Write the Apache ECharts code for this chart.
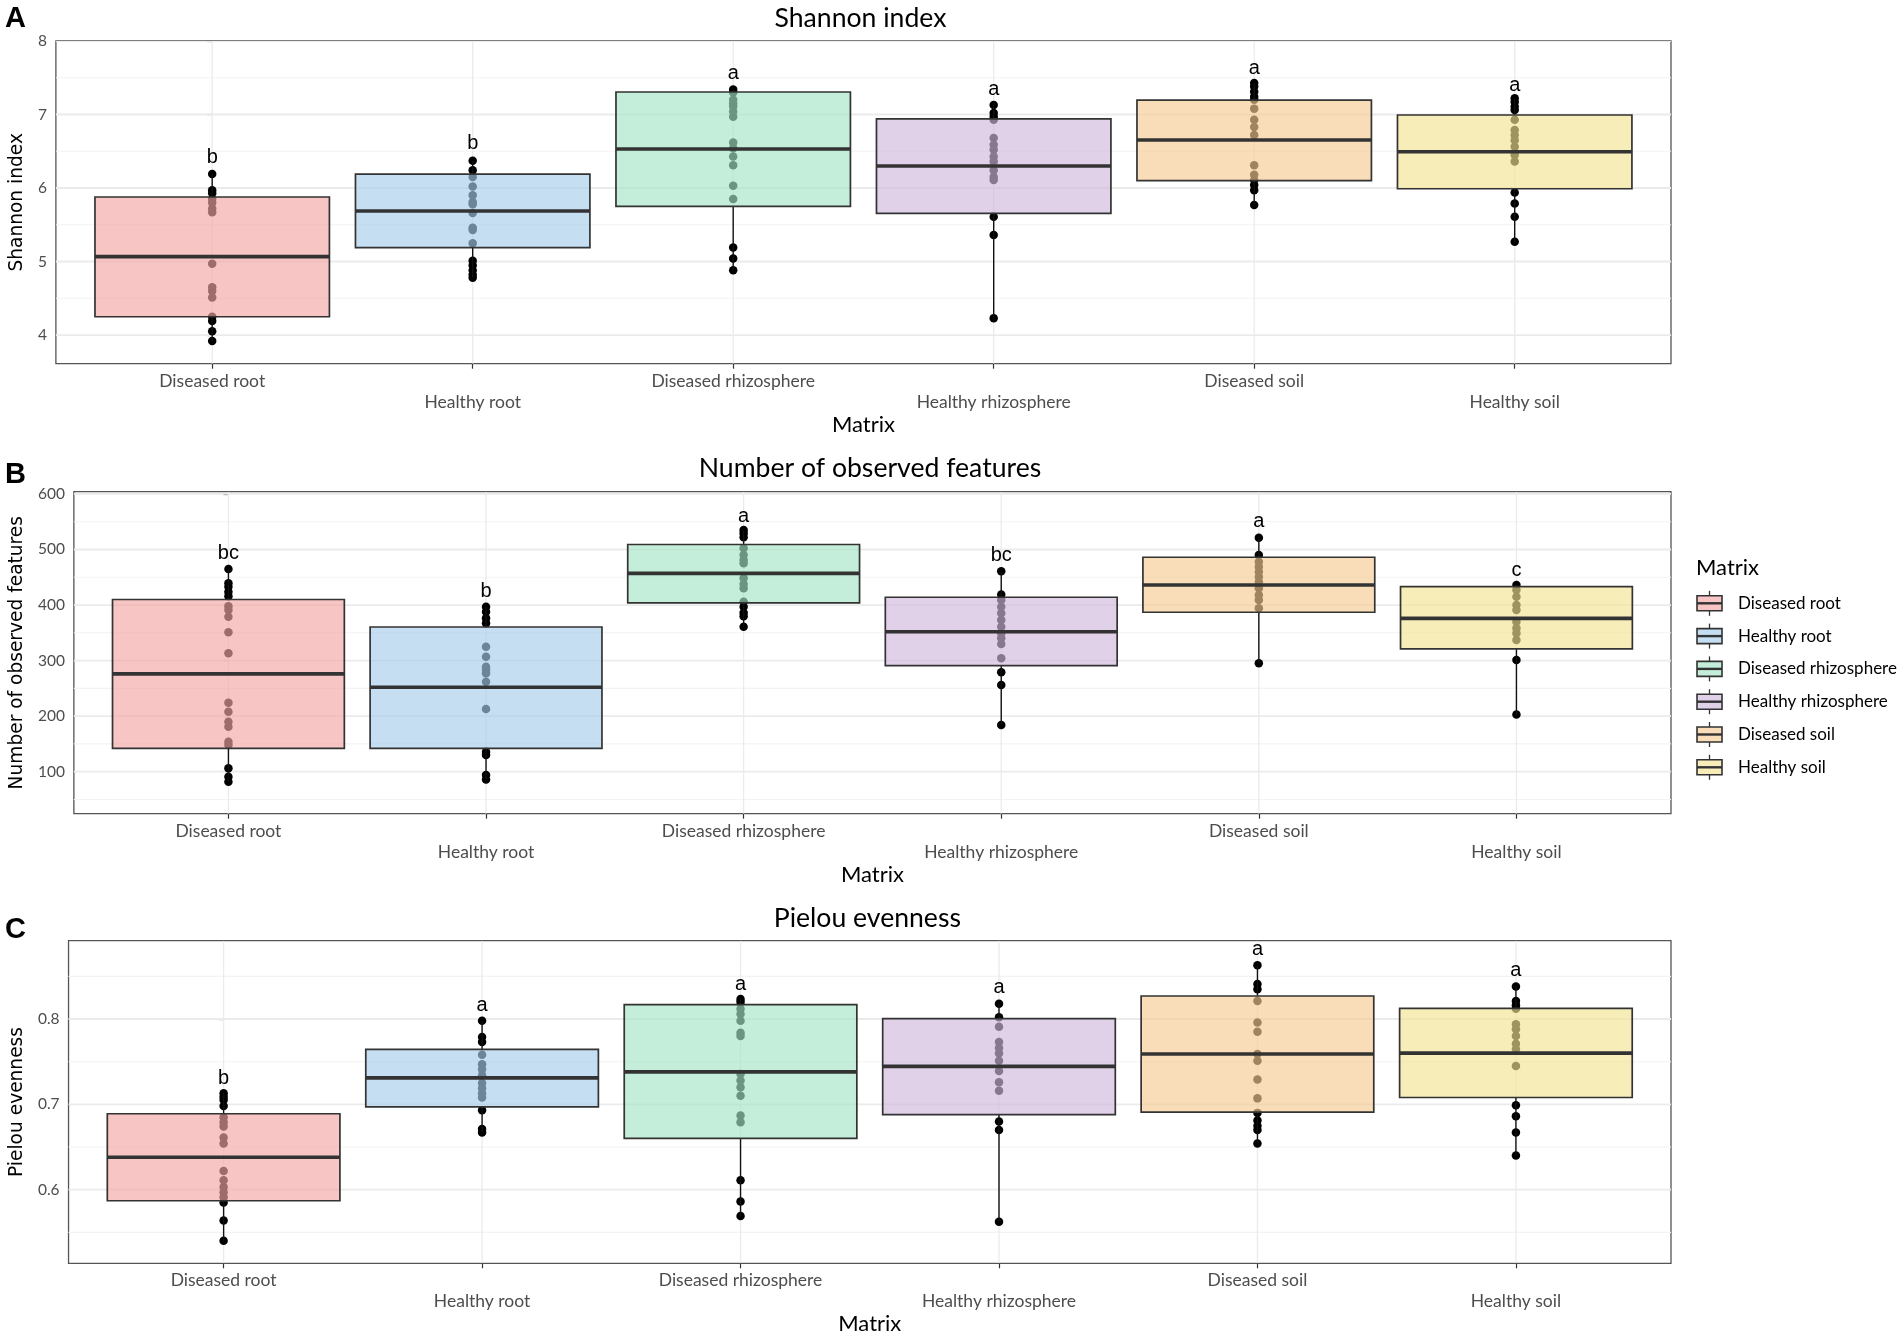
<!DOCTYPE html>
<html><head><meta charset="utf-8">
<script src="https://cdn.jsdelivr.net/npm/echarts@6/dist/echarts.min.js"></script>
<style>html,body{margin:0;padding:0;background:#fff}#c{width:1902px;height:1339px}</style>
</head><body><div id="c"></div>
<script>
// ---------- data ----------
const categories = ['Diseased root','Healthy root','Diseased rhizosphere','Healthy rhizosphere','Diseased soil','Healthy soil'];
const fillColors = ['rgba(243,166,164,0.65)','rgba(166,204,235,0.65)','rgba(164,229,196,0.65)','rgba(207,183,220,0.65)','rgba(246,203,146,0.65)','rgba(243,227,147,0.65)'];

// box stats: [q1, median, q3, whiskerLow, whiskerHigh]
const shannonBox = [[4.249,5.066,5.878,3.92,6.19],[5.188,5.687,6.19,4.78,6.37],[5.75,6.53,7.306,4.88,7.34],[5.655,6.30,6.94,4.23,7.13],[6.10,6.653,7.197,5.77,7.43],[5.99,6.494,6.993,5.27,7.22]];
const shannonPoints = [
  [6.19,5.97,5.93,5.85,5.80,5.72,5.67,4.97,4.65,4.60,4.51,4.25,4.19,4.05,3.92],
  [6.37,6.24,6.15,6.02,5.90,5.81,5.78,5.66,5.46,5.43,5.25,5.01,4.95,4.88,4.82,4.78],
  [7.34,7.30,7.20,7.15,7.11,7.04,6.97,6.62,6.54,6.43,6.31,6.03,5.85,5.19,5.04,4.88],
  [7.13,7.02,6.97,6.93,6.68,6.59,6.52,6.43,6.36,6.24,6.15,6.11,5.61,5.36,4.23],
  [7.43,7.38,7.31,7.24,7.20,7.08,6.93,6.83,6.72,6.31,6.18,6.11,6.04,5.97,5.77],
  [7.22,7.17,7.11,7.06,6.93,6.79,6.72,6.65,6.56,6.45,6.36,5.94,5.79,5.61,5.27]];
const shannonLetters = ['b','b','a','a','a','a'];
const shannonLetterY = [6.42,6.60,7.56,7.34,7.63,7.39];
const shannonTicks = [4,5,6,7,8];
const shannonMinor = [4.5,5.5,6.5,7.5];

const featuresBox = [[142,276,410,82,465],[142,252,360.5,86,397],[404,457,509,361,535],[291,352,414,184,461],[387,436,486,295,521],[321,376,433,203,436]];
const featuresPoints = [
  [465,439,433,424,416,398,391,379,351,313,224,208,190,181,154,148,106,91,82],
  [397,388,376,367,325,307,289,283,277,262,213,136,130,94,86],
  [535,529,522,502,490,481,475,448,438,430,406,397,386,380,361],
  [461,419,409,397,385,373,361,349,340,330,304,279,256,184],
  [521,490,478,469,460,451,442,430,418,409,394,295],
  [436,427,415,400,391,370,358,349,337,301,203]];
const featuresLetters = ['bc','b','a','bc','a','c'];
const featuresLetterY = [493,424,560,490,550,462];
const featuresTicks = [100,200,300,400,500,600];
const featuresMinor = [50,150,250,350,450,550];

const pielouBox = [[0.587,0.638,0.689,0.540,0.713],[0.697,0.731,0.7645,0.667,0.798],[0.660,0.738,0.8168,0.569,0.8234],[0.688,0.7445,0.8004,0.5625,0.818],[0.691,0.759,0.827,0.654,0.863],[0.708,0.760,0.8125,0.640,0.838]];
const pielouPoints = [
  [0.713,0.709,0.705,0.698,0.685,0.679,0.674,0.661,0.654,0.622,0.611,0.603,0.597,0.591,0.585,0.564,0.540],
  [0.798,0.779,0.773,0.758,0.747,0.741,0.734,0.725,0.719,0.713,0.708,0.693,0.671,0.667],
  [0.8234,0.820,0.812,0.806,0.798,0.784,0.780,0.7355,0.728,0.720,0.710,0.687,0.679,0.611,0.586,0.569],
  [0.818,0.802,0.791,0.773,0.766,0.760,0.751,0.739,0.726,0.716,0.680,0.670,0.5625],
  [0.863,0.841,0.835,0.821,0.796,0.785,0.759,0.751,0.729,0.707,0.690,0.681,0.675,0.670,0.654],
  [0.838,0.821,0.816,0.812,0.794,0.788,0.780,0.771,0.765,0.745,0.699,0.686,0.667,0.640]];
const pielouLetters = ['b','a','a','a','a','a'];
const pielouLetterY = [0.7305,0.8164,0.840,0.837,0.882,0.857];
const pielouTicks = [0.6,0.7,0.8];
const pielouMinor = [0.55,0.65,0.75,0.85];

// ---------- layout ----------
const NARROW = "Lato,'Open Sans',sans-serif";
const ARIAL = "'Liberation Sans',Arial,sans-serif";
const panels = [
  {tag:'A', title:'Shannon index', yName:'Shannon index', grid:{left:50, top:41, width:1621, height:322.7}, yMin:3.61, yMax:8.0, nameGap:25,
   box:shannonBox, pts:shannonPoints, letters:shannonLetters, letterY:shannonLetterY, ticks:shannonTicks, minor:shannonMinor, titleY:18, tagY:19},
  {tag:'B', title:'Number of observed features', yName:'Number of observed features', grid:{left:69, top:491.7, width:1602, height:322}, yMin:24.4, yMax:604, nameGap:44,
   box:featuresBox, pts:featuresPoints, letters:featuresLetters, letterY:featuresLetterY, ticks:featuresTicks, minor:featuresMinor, titleY:468, tagY:475},
  {tag:'C', title:'Pielou evenness', yName:'Pielou evenness', grid:{left:63.7, top:940.7, width:1607.3, height:322.6}, yMin:0.5137, yMax:0.8918, nameGap:39,
   box:pielouBox, pts:pielouPoints, letters:pielouLetters, letterY:pielouLetterY, ticks:pielouTicks, minor:pielouMinor, titleY:918, tagY:930}
];

const grids = [], xAxes = [], yAxes = [], series = [], graphics = [];
const catIdx = categories.map((c,i)=>i);

panels.forEach((p, k) => {
  grids.push(Object.assign({show:true, borderColor:'#555', borderWidth:1.3, backgroundColor:'#fff'}, p.grid));
  xAxes.push({
    type:'value', gridIndex:k, min:-0.6, max:5.6,
    axisLine:{show:false}, splitLine:{show:false},
    axisTick:{show:true, customValues:catIdx, length:5, lineStyle:{color:'#333', width:1.2}},
    axisLabel:{show:true, customValues:catIdx, margin:7, fontFamily:NARROW, fontSize:17.5, color:'#4D4D4D', lineHeight:21,
      formatter: v => { const i = Math.round(v); return (i % 2 === 1 ? '\n' : '') + categories[i]; }},
    name:'Matrix', nameLocation:'middle', nameGap:50,
    nameTextStyle:{fontFamily:NARROW, fontSize:22, color:'#000'}
  });
  yAxes.push({
    type:'value', gridIndex:k, min:p.yMin, max:p.yMax,
    axisLine:{show:false}, splitLine:{show:false},
    axisTick:{show:true, customValues:p.ticks, length:5, lineStyle:{color:'#333', width:1.2}},
    axisLabel:{show:true, customValues:p.ticks, margin:9, fontFamily:NARROW, fontSize:15.5, color:'#4D4D4D'},
    name:p.yName, nameLocation:'middle', nameRotate:90, nameGap:p.nameGap,
    nameTextStyle:{fontFamily:"'DejaVu Sans',Verdana,sans-serif", fontSize:18.6, color:'#000'}
  });
  const yMin = p.yMin;
  const gridData = [].concat(p.ticks.map(v=>[0,v]), p.minor.map(v=>[1,v]), catIdx.map(i=>[2,i]));
  series.push({
    type:'custom', xAxisIndex:k, yAxisIndex:k, z:1, silent:true, clip:true,
    data:gridData,
    renderItem:(params, api) => {
      const cs = params.coordSys; const kind = api.value(0), v = api.value(1);
      if (kind === 2) {
        const px = api.coord([v, yMin])[0];
        return {type:'line', shape:{x1:px, y1:cs.y, x2:px, y2:cs.y+cs.height}, style:{stroke:'#EBEBEB', lineWidth:1.3}};
      }
      const py = api.coord([0, v])[1];
      return {type:'line', shape:{x1:cs.x, y1:py, x2:cs.x+cs.width, y2:py},
        style:{stroke: kind === 0 ? '#EBEBEB' : '#F3F3F3', lineWidth: kind === 0 ? 1.8 : 1.1}};
    }
  });
  series.push({
    type:'scatter', xAxisIndex:k, yAxisIndex:k, z:2, silent:true,
    symbolSize:8.5, itemStyle:{color:'#000', opacity:1},
    data: p.pts.flatMap((arr,i)=>arr.map(v=>[i,v]))
  });
  series.push({
    type:'custom', xAxisIndex:k, yAxisIndex:k, z:3, silent:true,
    data: p.box.map((b,i)=>[i, b[0], b[1], b[2], b[3], b[4]]),
    renderItem:(params, api) => {
      const x = api.value(0), i = params.dataIndex;
      const q1 = api.coord([x, api.value(1)]), med = api.coord([x, api.value(2)]), q3 = api.coord([x, api.value(3)]);
      const lo = api.coord([x, api.value(4)]), hi = api.coord([x, api.value(5)]);
      const w = api.size([0.9, 0])[0];
      return {type:'group', children:[
        {type:'line', shape:{x1:q3[0], y1:hi[1], x2:q3[0], y2:q3[1]}, style:{stroke:'#111', lineWidth:1.4}},
        {type:'line', shape:{x1:q1[0], y1:q1[1], x2:q1[0], y2:lo[1]}, style:{stroke:'#111', lineWidth:1.4}},
        {type:'rect', shape:{x:q3[0]-w/2, y:q3[1], width:w, height:q1[1]-q3[1]}, style:{fill:fillColors[i], stroke:'#333', lineWidth:1.7}},
        {type:'line', shape:{x1:q3[0]-w/2, y1:med[1], x2:q3[0]+w/2, y2:med[1]}, style:{stroke:'#333', lineWidth:3.6}}
      ]};
    }
  });
  const letters = p.letters;
  series.push({
    type:'custom', xAxisIndex:k, yAxisIndex:k, z:4, silent:true,
    data: letters.map((l,i)=>[i, p.letterY[i]]),
    renderItem:(params, api) => {
      const pt = api.coord([api.value(0), api.value(1)]);
      return {type:'text', x:pt[0], y:pt[1],
        style:{text:letters[params.dataIndex], fontFamily:ARIAL, fontSize:20, fill:'#000', align:'center', verticalAlign:'middle'}};
    }
  });
  graphics.push({type:'text', x:(p.grid.left + p.grid.left + p.grid.width)/2, y:p.titleY,
    style:{text:p.title, fontFamily:NARROW, fontSize:26.6, fill:'#000', align:'center', verticalAlign:'middle'}});
  graphics.push({type:'text', x:5, y:p.tagY,
    style:{text:p.tag, fontFamily:ARIAL, fontWeight:'bold', fontSize:29, fill:'#000', align:'left', verticalAlign:'middle'}});
});

// legend (drawn as graphics)
graphics.push({type:'text', x:1696, y:568, style:{text:'Matrix', fontFamily:NARROW, fontSize:22, fill:'#000', align:'left', verticalAlign:'middle'}});
categories.forEach((c,i) => {
  const cy = 603.3 + i*32.8;
  graphics.push({type:'line', shape:{x1:1709.5, y1:cy-12.5, x2:1709.5, y2:cy+12.5}, style:{stroke:'#333', lineWidth:1.3}});
  graphics.push({type:'rect', shape:{x:1697, y:cy-7.5, width:25, height:15}, style:{fill:'#fff', stroke:'none'}});
  graphics.push({type:'rect', shape:{x:1697, y:cy-7.5, width:25, height:15}, style:{fill:fillColors[i], stroke:'#333', lineWidth:1.6}});
  graphics.push({type:'line', shape:{x1:1697, y1:cy, x2:1722, y2:cy}, style:{stroke:'#333', lineWidth:2.4}});
  graphics.push({type:'text', x:1738, y:cy, style:{text:c, fontFamily:NARROW, fontSize:17, fill:'#000', align:'left', verticalAlign:'middle'}});
});

const chart = echarts.init(document.getElementById('c'), null, {renderer:'canvas'});
chart.setOption({
  animation:false, backgroundColor:'#fff',
  grid:grids, xAxis:xAxes, yAxis:yAxes, series:series, graphic:graphics
});
</script></body></html>
